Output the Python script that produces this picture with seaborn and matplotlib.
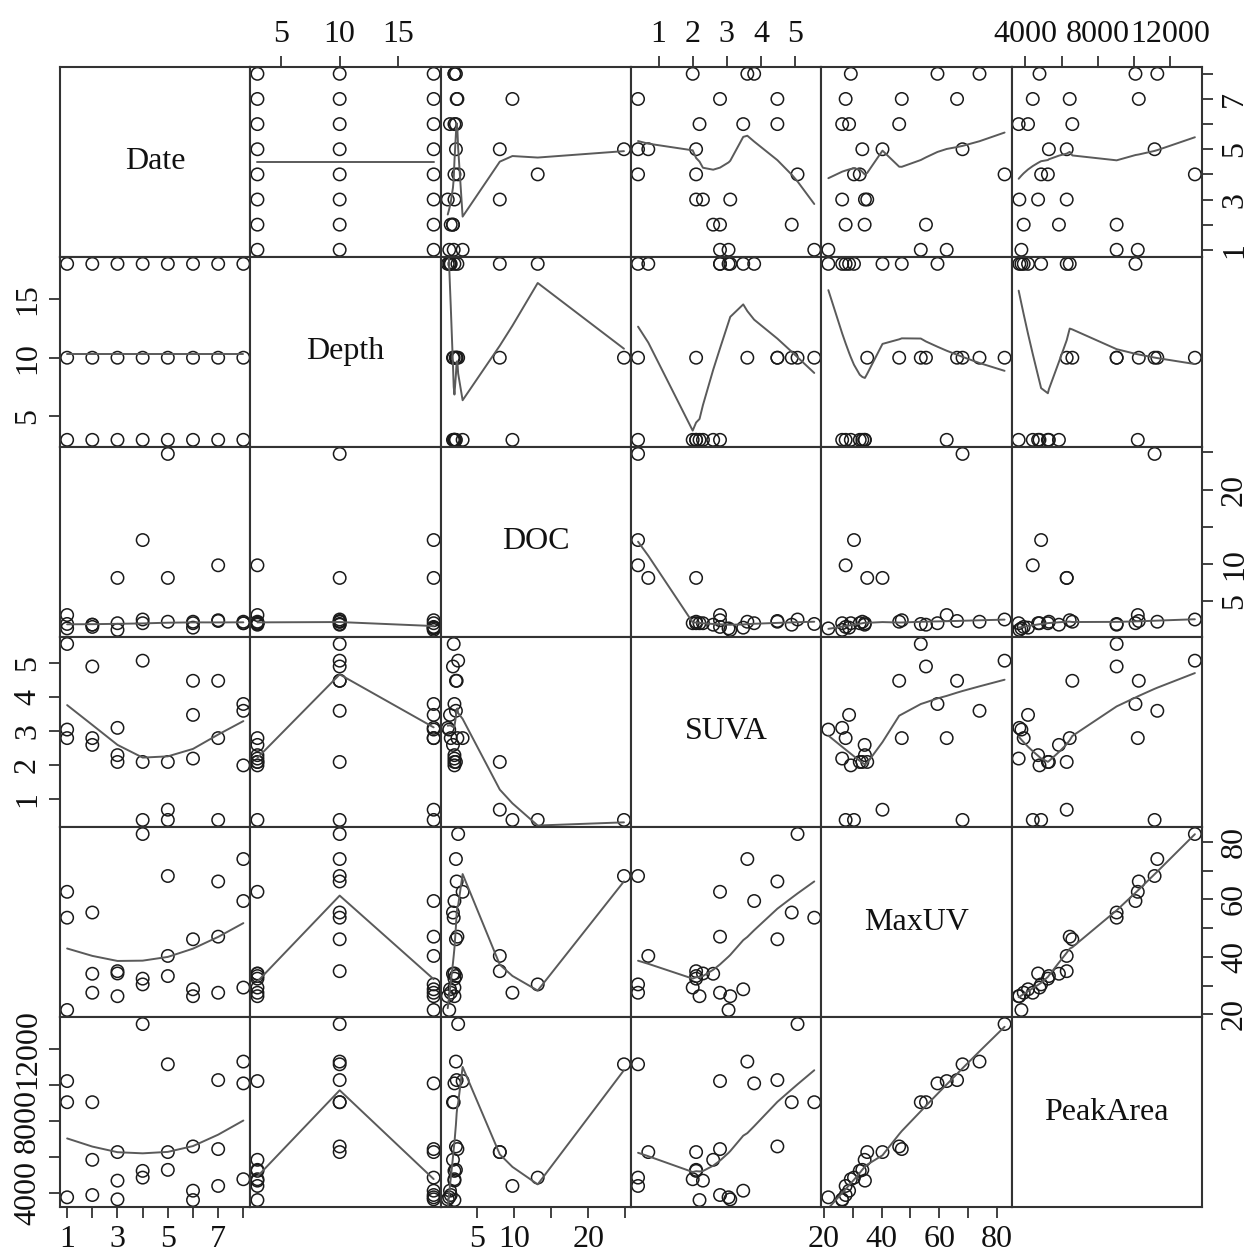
import numpy as np
import pandas as pd
import matplotlib
matplotlib.use("Agg")
import matplotlib.pyplot as plt
import seaborn as sns

# one row per sample: 8 dates x 3 depths (3 m, 10 m, 18 m)
date = [1, 1, 1, 2, 2, 2, 3, 3, 3, 4, 4, 4, 5, 5, 5, 6, 6, 6, 7, 7, 7, 8, 8, 8]
depth = [3, 10, 18] * 8
doc = [3.1, 1.9, 1.3, 1.8, 1.8, 1.5, 2.0, 8.1, 1.1, 2.0, 2.5, 13.2,
       2.2, 24.8, 8.1, 2.0, 2.2, 1.4, 9.8, 2.3, 2.4, 2.0, 2.2, 2.0]
suva = [2.8, 5.56, 3.05, 2.6, 4.9, 2.8, 2.3, 2.1, 3.1, 2.1, 5.07, 0.4,
        2.1, 0.4, 0.7, 2.2, 4.48, 3.48, 0.4, 4.48, 2.8, 2.0, 3.6, 3.8]
maxuv = [62.6, 53.6, 21.5, 34.1, 55.4, 27.5, 34.2, 35.0, 26.3, 32.4, 82.7, 30.4,
         33.3, 68.1, 40.3, 26.3, 46.1, 28.7, 27.5, 66.2, 47.0, 29.3, 74.0, 59.4]
peakarea = [10205, 9037, 3778, 5851, 9037, 3905, 4700, 6280, 3666, 5240, 13357, 4867,
            5296, 11133, 6280, 3627, 6591, 4144, 4406, 10260, 6446, 4778, 11283, 10077]

names = ["Date", "Depth", "DOC", "SUVA", "MaxUV", "PeakArea"]
df = pd.DataFrame({"Date": date, "Depth": depth, "DOC": doc, "SUVA": suva,
                   "MaxUV": maxuv, "PeakArea": peakarea})

# tick positions and which of them get a label (R drops crowded labels)
ticks = {
    "Date": ([1, 2, 3, 4, 5, 6, 7, 8], [1, 3, 5, 7]),
    "Depth": ([5, 10, 15], [5, 10, 15]),
    "DOC": ([5, 10, 15, 20, 25], [5, 10, 20]),
    "SUVA": ([1, 2, 3, 4, 5], [1, 2, 3, 4, 5]),
    "MaxUV": ([20, 30, 40, 50, 60, 70, 80], [20, 40, 60, 80]),
    "PeakArea": ([4000, 6000, 8000, 10000, 12000], [4000, 8000, 12000]),
}


def lowess(x, y, f=2 / 3, iters=3):
    # same idea as R's lowess(): local linear fit, tricube weights, robustness steps
    x = np.asarray(x, float)
    y = np.asarray(y, float)
    o = np.argsort(x, kind="mergesort")
    x, y = x[o], y[o]
    n = len(x)
    ns = max(min(n, int(f * n + 1e-7)), 2)
    rw = np.ones(n)
    fit = np.zeros(n)
    for it in range(iters + 1):
        for i in range(n):
            d = np.abs(x - x[i])
            h = np.sort(d)[ns - 1]
            if h <= 0:
                h = 1e-12
            w = np.where(d <= 0.999 * h,
                         np.where(d <= 0.001 * h, 1.0, (1 - (d / h) ** 3) ** 3), 0.0) * rw
            sw = w.sum()
            if sw <= 0:
                fit[i] = y[i]
                continue
            w = w / sw
            xm = (w * x).sum()
            var = (w * (x - xm) ** 2).sum()
            if np.sqrt(var) > 0.001 * (x[-1] - x[0]):
                b = (w * (x - xm) * y).sum() / var
                fit[i] = (w * y).sum() + b * (x[i] - xm)
            else:
                fit[i] = (w * y).sum()
        if it == iters:
            break
        res = np.abs(y - fit)
        cmad = 6 * np.median(res)
        if cmad < 1e-7 * np.mean(np.abs(y)):
            break
        u = res / cmad
        rw = np.where(u <= 0.001, 1.0, np.where(u > 0.999, 0.0, (1 - u ** 2) ** 2))
    return x, fit


def limits(v):
    lo, hi = min(v), max(v)
    pad = 0.04 * (hi - lo)
    return lo - pad, hi + pad


sns.set_theme(style="white")
plt.rcParams["font.family"] = ["Liberation Serif", "DejaVu Serif"]

fs = 23
fig, axes = plt.subplots(6, 6, figsize=(12.52, 12.6), dpi=100)
fig.subplots_adjust(left=0.048, right=0.96, top=0.947, bottom=0.042, wspace=0, hspace=0)

for i, yv in enumerate(names):
    for j, xv in enumerate(names):
        ax = axes[i, j]
        ax.set_xlim(limits(df[xv]))
        ax.set_ylim(limits(df[yv]))
        if i == j:
            ax.text(0.5, 0.5, xv, transform=ax.transAxes, ha="center", va="center",
                    fontsize=fs, color="#111111")
        else:
            sns.scatterplot(x=df[xv], y=df[yv], ax=ax, marker="o", s=80,
                            facecolor="none", edgecolor="#1a1a1a", linewidth=1.1)
            lx, ly = lowess(df[xv], df[yv])
            sns.lineplot(x=lx, y=ly, ax=ax, color="#5a5a5a", linewidth=1.4,
                         estimator=None, sort=False)
        ax.set_xlabel("")
        ax.set_ylabel("")
        for sp in ax.spines.values():
            sp.set_color("#333333")
            sp.set_linewidth(1.5)

        ax.tick_params(bottom=False, top=False, left=False, right=False,
                       labelbottom=False, labeltop=False, labelleft=False, labelright=False)

        xt, xl = ticks[xv]
        yt, yl = ticks[yv]
        ax.set_xticks(xt)
        ax.set_xticklabels([str(t) if t in xl else "" for t in xt])
        ax.set_yticks(yt)
        ax.set_yticklabels([str(t) if t in yl else "" for t in yt])

        if i == 0 and j % 2 == 1:
            ax.tick_params(axis="x", top=True, labeltop=True)
        if i == 5 and j % 2 == 0:
            ax.tick_params(axis="x", bottom=True, labelbottom=True)
        if j == 0 and i % 2 == 1:
            ax.tick_params(axis="y", left=True, labelleft=True)
        if j == 5 and i % 2 == 0:
            ax.tick_params(axis="y", right=True, labelright=True)
        ax.tick_params(axis="both", length=8, width=1.3, color="#333333",
                       labelsize=fs, labelcolor="#111111", pad=5)
        ax.tick_params(axis="y", labelrotation=90)
        for lab in ax.get_yticklabels():
            lab.set_va("center")

fig.savefig("out.png", dpi=100)
